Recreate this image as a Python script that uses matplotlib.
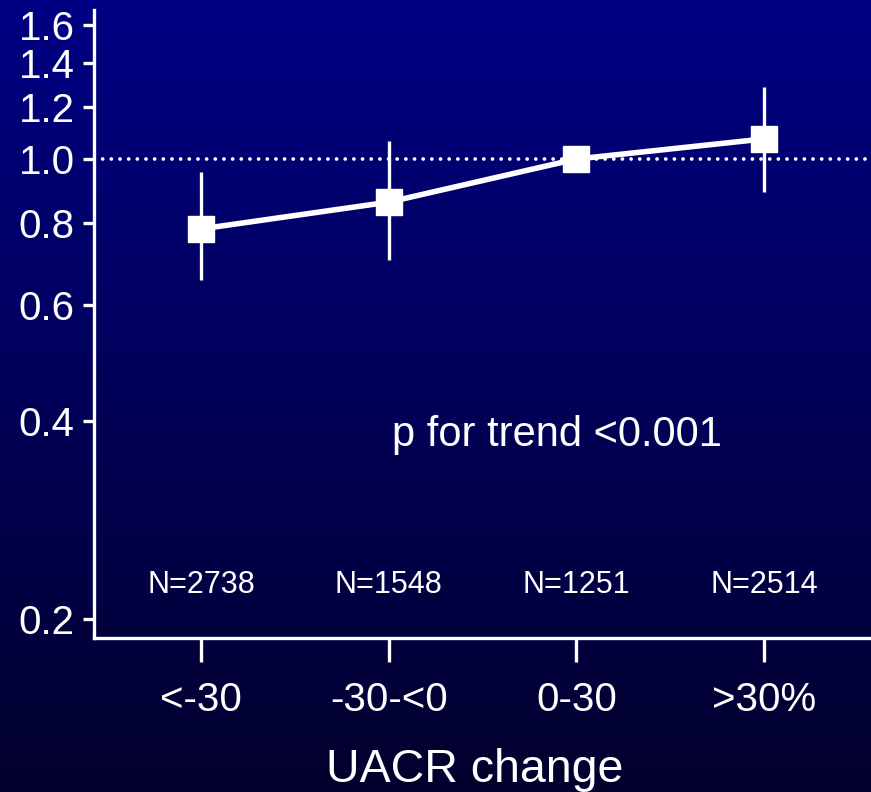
import numpy as np
import matplotlib
matplotlib.use('Agg')
from matplotlib import pyplot as plt

plt.rcParams['font.family'] = ['Liberation Sans', 'DejaVu Sans']

# UACR change groups
categories = ['<-30', '-30-<0', '0-30', '>30%']
n_labels = ['N=2738', 'N=1548', 'N=1251', 'N=2514']

# hazard ratios and 95% CI
hr = [0.783, 0.86, 1.0, 1.073]
ci_low = [0.655, 0.702, 1.0, 0.891]
ci_high = [0.956, 1.065, 1.0, 1.286]

y_ticks = [0.2, 0.4, 0.6, 0.8, 1.0, 1.2, 1.4, 1.6]
p_text = 'p for trend <0.001'
x_title = 'UACR change'

fig = plt.figure(figsize=(8.71, 7.92), dpi=100)

# gradient background, navy at the top to almost black at the bottom
bg = fig.add_axes([0, 0, 1, 1])
top = np.array([0, 0, 132]) / 255
bottom = np.array([2, 0, 44]) / 255
t = np.linspace(0, 1, 256)[:, None]
grad = top[None, None, :] * (1 - t[..., None]) + bottom[None, None, :] * t[..., None]
grad = np.repeat(grad, 2, axis=1)
bg.imshow(grad, aspect='auto', extent=[0, 1, 0, 1])
bg.axis('off')

ax = fig.add_axes([0.108, 0.1944, 0.892, 0.793])
ax.patch.set_alpha(0)

x = np.arange(1, len(categories) + 1)
hr = np.array(hr)
yerr = [hr - np.array(ci_low), np.array(ci_high) - hr]

ax.axhline(1.0, color='white', lw=2.7, linestyle=(0, (0.01, 2.3)),
           dash_capstyle='round', zorder=1)
ax.errorbar(x, hr, yerr=yerr, fmt='none', ecolor='white', elinewidth=2.4,
            capsize=0, zorder=2)
ax.plot(x, hr, color='white', lw=4, marker='s', markersize=18.5,
        markerfacecolor='white', markeredgecolor='white', zorder=3)

ax.set_yscale('log')
ax.set_ylim(0.187, 1.685)
ax.set_xlim(0.43, 4.57)
ax.set_yticks(y_ticks)
ax.set_yticklabels(['%.1f' % v for v in y_ticks])
ax.yaxis.set_minor_locator(matplotlib.ticker.NullLocator())
ax.set_xticks(x)
ax.set_xticklabels(categories)

for s in ['top', 'right']:
    ax.spines[s].set_visible(False)
for s in ['left', 'bottom']:
    ax.spines[s].set_color('white')
    ax.spines[s].set_linewidth(2.4)

ax.tick_params(axis='y', colors='white', labelsize=29, length=8, width=2.4, pad=6)
ax.tick_params(axis='x', colors='white', labelsize=29, length=17, width=2.4, pad=14)

for xi, lab in zip(x, n_labels):
    ax.text(xi, 0.225, lab, color='white', fontsize=22, ha='center', va='center')

ax.text(2.02, 0.381, p_text, color='white', fontsize=30, ha='left', va='center')

fig.text(0.545, 0.012, x_title, color='white', fontsize=33.5, ha='center', va='baseline')

fig.savefig('out.png', dpi=100)
